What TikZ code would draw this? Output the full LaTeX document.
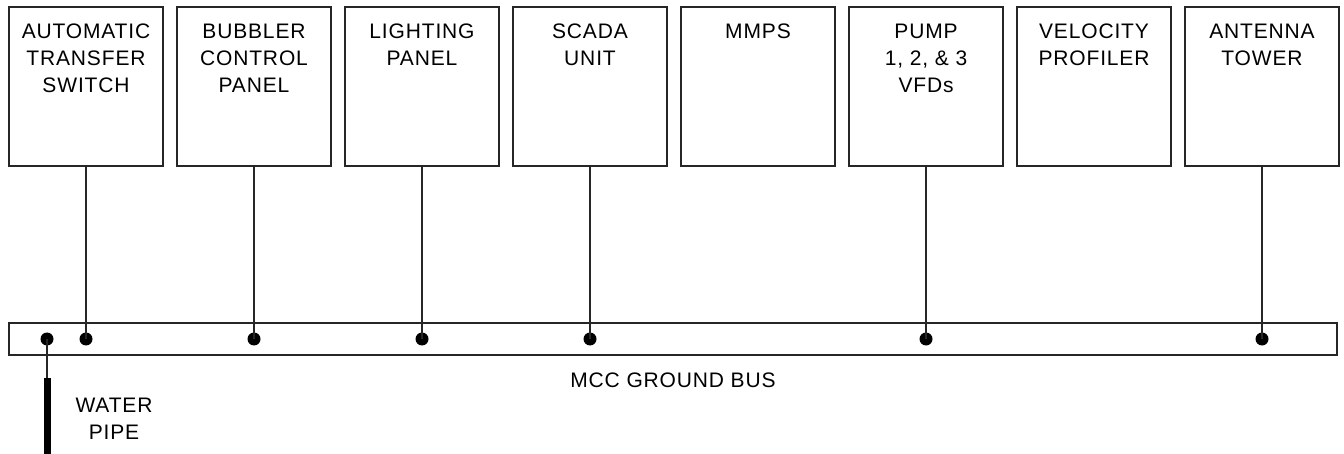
\documentclass[tikz,border=0pt]{standalone}
\usepackage{fontspec}
\setmainfont{Liberation Sans}[LetterSpace=4]
\usepackage{tikz}

\tikzset{
  unit/.style={draw,rectangle,minimum width=154pt,minimum height=159pt,inner sep=0pt},
  lbl/.style={font=\fontsize{21}{27}\selectfont,align=center,inner sep=0pt,anchor=north},
  dot/.style={circle,fill,inner sep=0pt,minimum size=13pt},
}

\begin{document}
\begin{tikzpicture}[x=1pt,y=-1pt,line width=1.2pt,draw=black!85]
\useasboundingbox (0,0) rectangle (1344,454);
% equipment
\node[unit] (u1) at (86,86.5) {};
\node[unit] (u2) at (254,86.5) {};
\node[unit] (u3) at (422,86.5) {};
\node[unit] (u4) at (590,86.5) {};
\node[unit] (u5) at (758,86.5) {};
\node[unit] (u6) at (926,86.5) {};
\node[unit] (u7) at (1094,86.5) {};
\node[unit] (u8) at (1262,86.5) {};
\node[lbl] (t1) at (86,23) {AUTOMATIC\\TRANSFER\\SWITCH};
\node[lbl] (t2) at (254,23) {BUBBLER\\CONTROL\\PANEL};
\node[lbl] (t3) at (422,23) {LIGHTING\\PANEL};
\node[lbl] (t4) at (590,23) {SCADA\\UNIT};
\node[lbl] (t5) at (758,23) {MMPS};
\node[lbl] (t6) at (926,23) {PUMP\\1, 2, \& 3\\VFDs};
\node[lbl] (t7) at (1094,23) {VELOCITY\\PROFILER};
\node[lbl] (t8) at (1262,23) {ANTENNA\\TOWER};
% ground bus
\node[draw,rectangle,minimum width=1328pt,minimum height=32pt,inner sep=0pt] (bus) at (673,339) {};
\node[lbl] (buslbl) at (673,372) {MCC GROUND BUS};
\node[dot] (d0) at (47,339) {};
\node[dot] (d1) at (86,339) {};
\node[dot] (d2) at (254,339) {};
\node[dot] (d3) at (422,339) {};
\node[dot] (d4) at (590,339) {};
\node[dot] (d6) at (926,339) {};
\node[dot] (d8) at (1262,339) {};
\draw (u1.south) -- (d1.center);
\draw (u2.south) -- (d2.center);
\draw (u3.south) -- (d3.center);
\draw (u4.south) -- (d4.center);
\draw (u6.south) -- (d6.center);
\draw (u8.south) -- (d8.center);
% water pipe
\coordinate (pipetop) at (47,378);
\coordinate (pipebot) at (47,454);
\draw (d0.center) -- (pipetop);
\draw[line width=7pt,draw=black] (pipetop) -- (pipebot);
\node[lbl] (pipelbl) at (114,397) {WATER\\PIPE};
\end{tikzpicture}
\end{document}
